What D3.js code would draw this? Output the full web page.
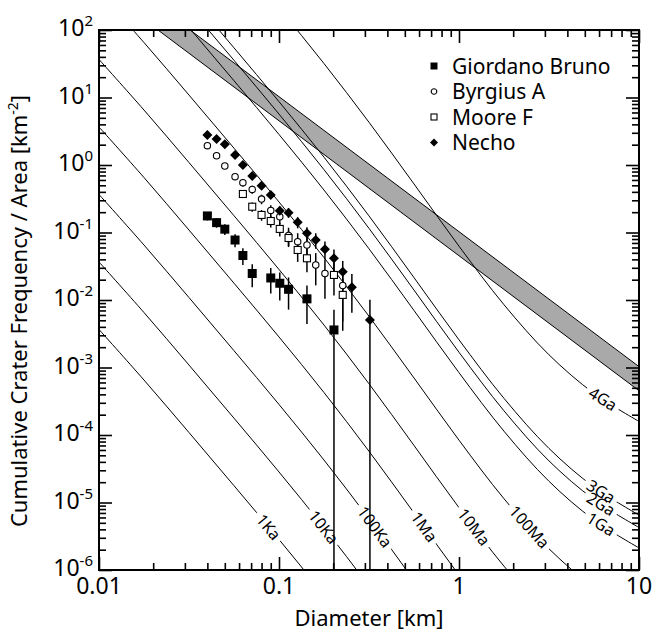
<!DOCTYPE html>
<html lang="en">
<head>
<meta charset="UTF-8">
<title>Crater size-frequency distributions</title>
<script src="https://d3js.org/d3.v7.min.js"></script>
<style>
    html, body { margin: 0; background: #fff; }
    svg text { font-family: "Noto Sans", "Liberation Sans", sans-serif; fill: #000; }
</style>
</head>
<body>
<div id="vis"></div>
<script>

    // ---- data ----

    // Giordano Bruno (filled squares): diameter [km], cumulative N [km^-2], +/- error
    var gbD   = [0.040, 0.045, 0.050, 0.057, 0.063, 0.071, 0.090, 0.101, 0.113, 0.143, 0.202];
    var gbN   = [0.176, 0.140, 0.112, 0.0774, 0.0456, 0.0247, 0.0212, 0.0177, 0.0144, 0.0104, 0.0036];
    var gbErr = [0.0251, 0.0224, 0.0201, 0.0169, 0.0126, 0.0093, 0.0087, 0.0079, 0.0072, 0.0060, 0.0036];

    // Byrgius A (open circles)
    var baD   = [0.040, 0.045, 0.050, 0.057, 0.063, 0.071, 0.080, 0.090, 0.101, 0.113, 0.127, 0.143, 0.160, 0.180, 0.226];
    var baN   = [1.93, 1.37, 0.966, 0.671, 0.547, 0.434, 0.313, 0.212, 0.171, 0.0903, 0.0731, 0.0653, 0.0330, 0.0247, 0.0164];
    var baErr = [0.125, 0.106, 0.0889, 0.0738, 0.0667, 0.0595, 0.0507, 0.0416, 0.0374, 0.0273, 0.0244, 0.0231, 0.0165, 0.0143, 0.0116];

    // Moore F (open squares)
    var mfD   = [0.063, 0.071, 0.080, 0.090, 0.101, 0.113, 0.127, 0.143, 0.202, 0.226];
    var mfN   = [0.372, 0.241, 0.182, 0.148, 0.113, 0.0829, 0.0551, 0.0415, 0.0235, 0.0119];
    var mfErr = [0.0469, 0.0376, 0.0327, 0.0296, 0.0258, 0.0221, 0.0184, 0.0157, 0.0118, 0.0084];

    // Necho (filled diamonds)
    var neD   = [0.040, 0.045, 0.050, 0.057, 0.063, 0.071, 0.080, 0.090, 0.101, 0.113, 0.127, 0.143, 0.160, 0.180, 0.202, 0.226, 0.254, 0.320];
    var neN   = [2.78, 2.43, 2.03, 1.41, 1.00, 0.687, 0.493, 0.360, 0.210, 0.196, 0.142, 0.0973, 0.0774, 0.0564, 0.0415, 0.0262, 0.0154, 0.00506];
    var neErr = [0.118, 0.111, 0.101, 0.0845, 0.0711, 0.0589, 0.0498, 0.0428, 0.0324, 0.0314, 0.0268, 0.0223, 0.0200, 0.0170, 0.0147, 0.0117, 0.0089, 0.00506];

    // production function shape, N(D) / N(1 km)
    var pfD   = [0.01, 0.01778, 0.03162, 0.05623, 0.1, 0.1778, 0.3162, 0.5623, 1, 1.778, 3.162, 5.623, 10];
    var pfRel = [4.365e6, 7.780e5, 1.297e5, 2.118e4, 3381, 508.0, 68.55, 8.356, 1, 0.1358, 0.02460, 0.006592, 0.002535];

    // isochrons: label and N(1 km) [km^-2]
    var isoLabels = ["1Ka", "10Ka", "100Ka", "1Ma", "10Ma", "100Ma", "1Ga", "2Ga", "3Ga", "4Ga"];
    var isoN1     = [8.38e-10, 8.38e-9, 8.38e-8, 8.38e-7, 8.38e-6, 8.38e-5, 8.38e-4, 1.68e-3, 2.57e-3, 6.27e-2];
    var isoLabelD = [0.0875, 0.177, 0.341, 0.64, 1.21, 2.46, 6.15, 6.15, 6.15, 6.3];

    // grey band (equilibrium): edges at two diameters
    var bandD    = [0.02, 10];
    var bandLow  = [113, 4.53e-4];
    var bandHigh = [257, 1.03e-3];

    var xTickVals = [0.01, 0.1, 1, 10];
    var xTickText = ["0.01", "0.1", "1", "10"];
    var yExponents = [-6, -5, -4, -3, -2, -1, 0, 1, 2];

    var legendNames = ["Giordano Bruno", "Byrgius A", "Moore F", "Necho"];

    // ---- layout ----
    var W = 656, H = 633;
    var margin = {top: 30, left: 99};
    var width = 540, height = 540;

    var svg = d3.select('#vis').append('svg')
        .attr('width', W)
        .attr('height', H);

    var g = svg.append('g')
        .attr('transform', 'translate(' + margin.left + ',' + margin.top + ')');

    var x = d3.scaleLog().domain([0.01, 10]).range([0, width]);
    var y = d3.scaleLog().domain([1e-6, 1e2]).range([height, 0]);

    g.append('clipPath').attr('id', 'clip')
        .append('rect').attr('width', width).attr('height', height);

    var plot = g.append('g').attr('clip-path', 'url(#clip)');

    // band
    var area = d3.area()
        .x(function(d) { return x(d[0]); })
        .y0(function(d) { return y(d[1]); })
        .y1(function(d) { return y(d[2]); });

    plot.append('path')
        .datum(d3.zip(bandD, bandLow, bandHigh))
        .attr('d', area)
        .attr('fill', '#a9a9a9')
        .attr('stroke', '#000')
        .attr('stroke-width', 1);

    // isochrons
    var line = d3.line()
        .x(function(d) { return x(d[0]); })
        .y(function(d) { return y(d[1]); })
        .curve(d3.curveCatmullRom);

    function pfAt(d) {
        // linear interpolation of the shape in log-log space
        var ld = Math.log10(d);
        for (var j = 0; j < pfD.length - 1; j++) {
            var a = Math.log10(pfD[j]), b = Math.log10(pfD[j + 1]);
            if (ld >= a && ld <= b) {
                var t = (ld - a) / (b - a);
                return Math.pow(10, Math.log10(pfRel[j]) * (1 - t) + Math.log10(pfRel[j + 1]) * t);
            }
        }
        return pfRel[pfRel.length - 1];
    }

    var isoG = plot.append('g');
    var gapG = plot.append('g');
    var labG = plot.append('g');

    isoN1.forEach(function(n1, i) {
        var pts = pfD.map(function(d, j) { return [d, n1 * pfRel[j]]; });
        isoG.append('path')
            .attr('d', line(pts))
            .attr('fill', 'none')
            .attr('stroke', '#000')
            .attr('stroke-width', 1);

        var dl = isoLabelD[i];
        var px = x(dl), py = y(n1 * pfAt(dl));
        var p0x = x(dl / 1.06), p0y = y(n1 * pfAt(dl / 1.06));
        var p1x = x(dl * 1.06), p1y = y(n1 * pfAt(dl * 1.06));
        var ang = Math.atan2(p1y - p0y, p1x - p0x) * 180 / Math.PI;
        var tr = 'translate(' + px + ',' + py + ') rotate(' + ang + ')';

        // white gap in the line behind the label
        var rect = gapG.append('rect').attr('transform', tr).attr('fill', '#fff');
        var txt = labG.append('text')
            .attr('transform', tr)
            .attr('text-anchor', 'middle')
            .attr('dy', '0.36em')
            .style('font-size', '16px')
            .text(isoLabels[i]);
        var bb = txt.node().getBBox();
        rect.attr('x', -bb.width / 2 - 4).attr('y', -4)
            .attr('width', bb.width + 8).attr('height', 8);
    });

    // data series
    var series = [
        {D: gbD, N: gbN, err: gbErr, shape: 'fsquare'},
        {D: baD, N: baN, err: baErr, shape: 'circle'},
        {D: mfD, N: mfN, err: mfErr, shape: 'osquare'},
        {D: neD, N: neN, err: neErr, shape: 'diamond'}
    ];

    function drawMarker(sel, shape, s) {
        if (shape === 'fsquare') {
            sel.append('rect').attr('x', -s / 2).attr('y', -s / 2).attr('width', s).attr('height', s)
                .attr('fill', '#000');
        } else if (shape === 'osquare') {
            sel.append('rect').attr('x', -s / 2).attr('y', -s / 2).attr('width', s).attr('height', s)
                .attr('fill', '#fff').attr('stroke', '#000').attr('stroke-width', 1.1);
        } else if (shape === 'circle') {
            sel.append('circle').attr('r', s / 2)
                .attr('fill', '#fff').attr('stroke', '#000').attr('stroke-width', 1.1);
        } else {
            var h = s / 2;
            sel.append('path').attr('d', 'M0,' + (-h) + 'L' + h + ',0L0,' + h + 'L' + (-h) + ',0Z')
                .attr('fill', '#000');
        }
    }

    var markerSize = {fsquare: 9, circle: 6.4, osquare: 7, diamond: 10};
    var dataG = plot.append('g');

    series.forEach(function(s) {
        s.D.forEach(function(d, i) {
            var lo = s.N[i] - s.err[i];
            var yLo = lo <= s.N[i] * 1e-3 ? height : y(lo);
            dataG.append('line')
                .attr('x1', x(d)).attr('x2', x(d))
                .attr('y1', y(s.N[i] + s.err[i])).attr('y2', yLo)
                .attr('stroke', '#000')
                .attr('stroke-width', 1.5);
        });
    });

    series.forEach(function(s) {
        s.D.forEach(function(d, i) {
            var m = dataG.append('g')
                .attr('transform', 'translate(' + x(d) + ',' + y(s.N[i]) + ')');
            drawMarker(m, s.shape, markerSize[s.shape]);
        });
    });

    // axes: ticks pointing inward on all four sides
    var xMinor = x.ticks().filter(function(v) { return Math.abs(Math.log10(v) - Math.round(Math.log10(v))) > 1e-6; });
    var yMinor = y.ticks().filter(function(v) { return Math.abs(Math.log10(v) - Math.round(Math.log10(v))) > 1e-6; });
    var yMajor = yExponents.map(function(e) { return Math.pow(10, e); });

    function styleAxis(sel) {
        sel.select('.domain').remove();
        sel.selectAll('.tick line').attr('stroke', '#000').attr('stroke-width', 1.6);
        sel.selectAll('.tick text').remove();
    }

    var majLen = 13, minLen = 7;
    [[xTickVals, majLen], [xMinor, minLen]].forEach(function(p) {
        g.append('g').attr('transform', 'translate(0,' + height + ')')
            .call(d3.axisBottom(x).tickValues(p[0]).tickSize(-p[1]).tickSizeOuter(0)).call(styleAxis);
        g.append('g')
            .call(d3.axisTop(x).tickValues(p[0]).tickSize(-p[1]).tickSizeOuter(0)).call(styleAxis);
    });
    [[yMajor, majLen], [yMinor, minLen]].forEach(function(p) {
        g.append('g')
            .call(d3.axisLeft(y).tickValues(p[0]).tickSize(-p[1]).tickSizeOuter(0)).call(styleAxis);
        g.append('g').attr('transform', 'translate(' + width + ',0)')
            .call(d3.axisRight(y).tickValues(p[0]).tickSize(-p[1]).tickSizeOuter(0)).call(styleAxis);
    });

    g.append('rect')
        .attr('width', width).attr('height', height)
        .attr('fill', 'none').attr('stroke', '#000').attr('stroke-width', 2);

    // tick labels
    xTickVals.forEach(function(v, i) {
        g.append('text')
            .attr('x', x(v)).attr('y', height + 24)
            .attr('text-anchor', 'middle')
            .style('font-size', '23px')
            .text(xTickText[i]);
    });

    yExponents.forEach(function(e) {
        var t = g.append('text')
            .attr('x', -6).attr('y', y(Math.pow(10, e)) + 6)
            .attr('text-anchor', 'end')
            .style('font-size', '23px');
        t.append('tspan').text('10');
        t.append('tspan').attr('dy', -10).style('font-size', '15px').text(String(e));
    });

    // axis titles
    g.append('text')
        .attr('x', width / 2).attr('y', height + 56)
        .attr('text-anchor', 'middle')
        .style('font-size', '22px')
        .text('Diameter [km]');

    var yt = svg.append('text')
        .attr('transform', 'translate(27,' + 311 + ') rotate(-90)')
        .attr('text-anchor', 'middle')
        .style('font-size', '22px');
    yt.append('tspan').text('Cumulative Crater Frequency / Area [km');
    yt.append('tspan').attr('dy', -9).style('font-size', '14px').text('-2');
    yt.append('tspan').attr('dy', 9).text(']');

    // legend
    var legShapes = ['fsquare', 'circle', 'osquare', 'diamond'];
    var legSize = {fsquare: 7, circle: 5.6, osquare: 6, diamond: 8};
    legendNames.forEach(function(name, i) {
        var lg = svg.append('g')
            .attr('transform', 'translate(434,' + (66 + i * 25.5) + ')');
        drawMarker(lg, legShapes[i], legSize[legShapes[i]]);
        lg.append('text')
            .attr('x', 18).attr('y', 7.5)
            .style('font-size', '21px')
            .text(name);
    });

</script>
</body>
</html>
